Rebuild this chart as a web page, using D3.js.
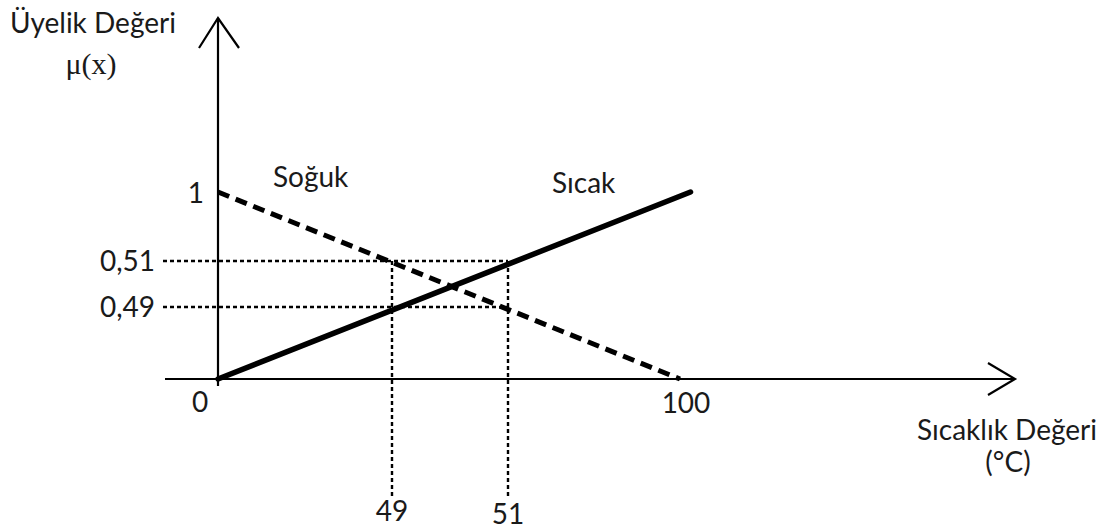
<!DOCTYPE html>
<html><head><meta charset="utf-8">
<script src="https://cdn.jsdelivr.net/npm/d3@7"></script>
<style>
html,body{margin:0;padding:0;background:#fff;}
svg{display:block;}
text{font-family:Lato,"Open Sans",sans-serif;fill:#1a1a1a;}
</style></head>
<body>
<script>
// ---- data ----
const xStops = [0, 49, 51, 100];          // schematic x anchor values (°C)
const yStops = [0, 0.49, 0.51, 1];        // schematic membership anchors
const sogukX = [0, 100];
const sogukY = [1, 0];
const sicakX = [0, 103];
const sicakY = [0, 1];
const xTickLabels = ["0", "49", "51", "100"];
const yTickLabels = ["1", "0,51", "0,49"];
const seriesNames = ["Soğuk", "Sıcak"];

const W = 1110, H = 531;
const svg = d3.select("body").append("svg").attr("width", W).attr("height", H);

const x = d3.scaleLinear().domain(xStops).range([218, 392, 508, 680]);
const y = d3.scaleLinear().domain(yStops).range([379, 307, 261, 192]);

const ink = "#000";

// guide dotted lines
const guides = svg.append("g").attr("stroke", ink).attr("stroke-width", 2.4).attr("stroke-dasharray", "4,3").attr("fill", "none");
guides.append("line").attr("x1", 163).attr("x2", x(51)).attr("y1", y(0.51)).attr("y2", y(0.51));
guides.append("line").attr("x1", 163).attr("x2", x(51)).attr("y1", y(0.49)).attr("y2", y(0.49));
guides.append("line").attr("x1", x(49)).attr("x2", x(49)).attr("y1", y(0.51)).attr("y2", 496);
guides.append("line").attr("x1", x(51)).attr("x2", x(51)).attr("y1", y(0.51)).attr("y2", 496);

// axes
const ax = svg.append("g").attr("stroke", ink).attr("stroke-width", 2.2).attr("fill", "none");
ax.append("line").attr("x1", 165).attr("x2", 1015).attr("y1", y(0)).attr("y2", y(0));
ax.append("path").attr("d", `M988,${y(0)-16}L1015,${y(0)}L988,${y(0)+16}`);
ax.append("line").attr("x1", x(0)).attr("x2", x(0)).attr("y1", 386).attr("y2", 18);
ax.append("path").attr("d", `M${x(0)-19},48L${x(0)},18L${x(0)+21},48`);

// series lines
const line = d3.line().x(d => x(d[0])).y(d => y(d[1]));
const soguk = d3.zip(sogukX, sogukY);
const sicak = d3.zip(sicakX, sicakY);
svg.append("path").datum(soguk).attr("d", line)
  .attr("stroke", ink).attr("stroke-width", 5).attr("fill", "none")
  .attr("stroke-dasharray", "12,7");
svg.append("path").datum(sicak).attr("d", line)
  .attr("stroke", ink).attr("stroke-width", 5.5).attr("fill", "none")
  .attr("stroke-linecap", "round");

// tick labels
const fs = 28;
svg.append("text").attr("x", 204).attr("y", 203).attr("text-anchor", "end").attr("font-size", fs).text(yTickLabels[0]);
svg.append("text").attr("x", 155).attr("y", y(0.51) + 10).attr("text-anchor", "end").attr("font-size", fs).text(yTickLabels[1]);
svg.append("text").attr("x", 155).attr("y", y(0.49) + 10).attr("text-anchor", "end").attr("font-size", fs).text(yTickLabels[2]);

svg.append("text").attr("x", 200).attr("y", 412).attr("text-anchor", "middle").attr("font-size", fs).text(xTickLabels[0]);
svg.append("text").attr("x", x(49)).attr("y", 521).attr("text-anchor", "middle").attr("font-size", fs).text(xTickLabels[1]);
svg.append("text").attr("x", x(51)).attr("y", 524).attr("text-anchor", "middle").attr("font-size", fs).text(xTickLabels[2]);
svg.append("text").attr("x", 686).attr("y", 413).attr("text-anchor", "middle").attr("font-size", fs).text(xTickLabels[3]);

// series labels
svg.append("text").attr("x", 273).attr("y", 187).attr("font-size", fs).text(seriesNames[0]);
svg.append("text").attr("x", 552).attr("y", 193).attr("font-size", fs).text(seriesNames[1]);

// axis titles
svg.append("text").attr("x", 93).attr("y", 33).attr("text-anchor", "middle").attr("font-size", fs).text("Üyelik Değeri");
svg.append("text").attr("x", 91).attr("y", 74).attr("text-anchor", "middle").attr("font-size", 30)
  .style("font-family", "'Liberation Serif','DejaVu Serif',serif").text("μ(x)");
svg.append("text").attr("x", 1007).attr("y", 440).attr("text-anchor", "middle").attr("font-size", fs).text("Sıcaklık Değeri");
svg.append("text").attr("x", 1008).attr("y", 472).attr("text-anchor", "middle").attr("font-size", fs).text("(°C)");
</script>
</body></html>
